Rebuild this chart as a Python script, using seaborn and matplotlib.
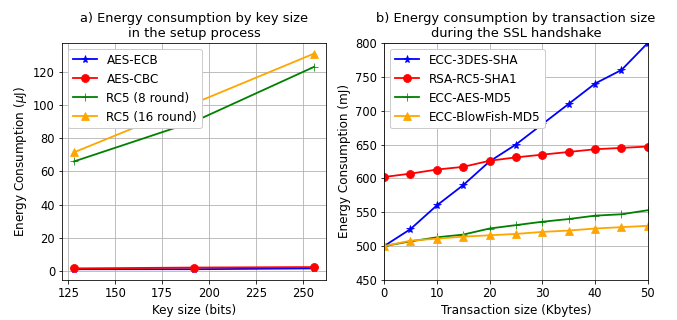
import matplotlib
matplotlib.use("Agg")
import matplotlib.pyplot as plt
from matplotlib.ticker import MultipleLocator
import pandas as pd
import seaborn as sns

# panel a) setup process
key_sizes = [128, 192, 256]
aes_ecb = [1.0, 1.0, 1.5]
aes_cbc = [1.5, 2.0, 2.3]
rc5_8 = [66, 90, 123]
rc5_16 = [71.5, 101, 131]

# panel b) SSL handshake
tx_sizes = [0, 5, 10, 15, 20, 25, 30, 35, 40, 45, 50]
ecc_3des_sha = [500, 525, 560, 590, 625, 650, 680, 710, 740, 760, 800]
rsa_rc5_sha1 = [602, 607, 613, 617, 626, 631, 635, 639, 643, 645, 647]
ecc_aes_md5 = [500, 507, 513, 517, 526, 531, 536, 540, 545, 547, 553]
ecc_blowfish_md5 = [500, 508, 511, 514, 516, 518, 521, 523, 526, 528, 530]

left_series = [
    ("AES-ECB", aes_ecb, "blue", "*"),
    ("AES-CBC", aes_cbc, "red", "o"),
    ("RC5 (8 round)", rc5_8, "green", "+"),
    ("RC5 (16 round)", rc5_16, "orange", "^"),
]
right_series = [
    ("ECC-3DES-SHA", ecc_3des_sha, "blue", "*"),
    ("RSA-RC5-SHA1", rsa_rc5_sha1, "red", "o"),
    ("ECC-AES-MD5", ecc_aes_md5, "green", "+"),
    ("ECC-BlowFish-MD5", ecc_blowfish_md5, "orange", "^"),
]

plt.rcParams.update({
    "font.size": 12,
    "xtick.labelsize": 11.5,
    "ytick.labelsize": 11.5,
    "axes.labelsize": 12,
    "legend.fontsize": 12,
})

fig, (ax1, ax2) = plt.subplots(1, 2, figsize=(677 / 72, 320 / 72), dpi=72)
fig.subplots_adjust(left=0.0916, right=0.957, bottom=0.125, top=0.866, wspace=0.22)


def draw(ax, xs, series):
    for name, vals, color, marker in series:
        df = pd.DataFrame({"x": xs, "y": vals})
        sns.lineplot(data=df, x="x", y="y", ax=ax, color=color, marker=marker,
                     markersize=8, markeredgecolor=color, linewidth=1.8, label=name)
    ax.grid(True)
    ax.legend(loc="upper left", framealpha=1)


draw(ax1, key_sizes, left_series)
ax1.set_title("a) Energy consumption by key size\nin the setup process", fontsize=13)
ax1.set_xlabel("Key size (bits)")
ax1.set_ylabel(r"Energy Consumption ($\mu$J)")
ax1.xaxis.set_major_locator(MultipleLocator(25))
ax1.yaxis.set_major_locator(MultipleLocator(20))

draw(ax2, tx_sizes, right_series)
ax2.set_title("b) Energy consumption by transaction size\nduring the SSL handshake", fontsize=13)
ax2.set_xlabel("Transaction size (Kbytes)")
ax2.set_ylabel("Energy Consumption (mJ)")
ax2.set_xlim(0, 50)
ax2.set_ylim(450, 800)

fig.savefig("out.png", dpi=72)
